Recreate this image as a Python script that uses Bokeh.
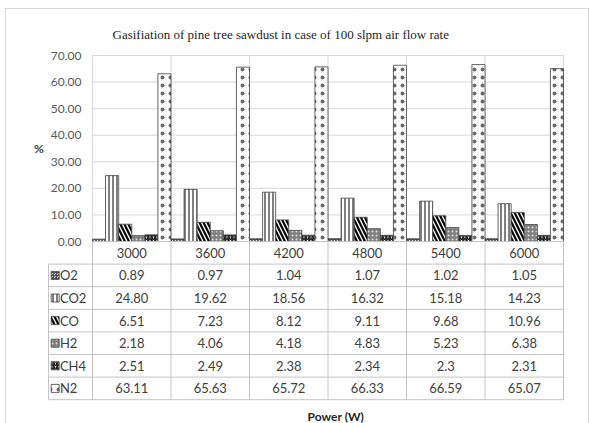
from bokeh.plotting import figure
from bokeh.layouts import column
from bokeh.models import Range1d, FixedTicker, NumeralTickFormatter
from bokeh.embed import file_html
from bokeh.resources import INLINE
from bokeh.core.properties import value

# ---------------- data ----------------
categories = ["3000", "3600", "4200", "4800", "5400", "6000"]
series_names = ["O2", "CO2", "CO", "H2", "CH4", "N2"]
O2 = ["0.89", "0.97", "1.04", "1.07", "1.02", "1.05"]
CO2 = ["24.80", "19.62", "18.56", "16.32", "15.18", "14.23"]
CO = ["6.51", "7.23", "8.12", "9.11", "9.68", "10.96"]
H2 = ["2.18", "4.06", "4.18", "4.83", "5.23", "6.38"]
CH4 = ["2.51", "2.49", "2.38", "2.34", "2.3", "2.31"]
N2 = ["63.11", "65.63", "65.72", "66.33", "66.59", "65.07"]
series_values = [O2, CO2, CO, H2, CH4, N2]
y_ticks = [0, 10, 20, 30, 40, 50, 60, 70]
title_text = "Gasifiation of pine tree sawdust in case of 100 slpm air flow rate"
y_label = "%"
x_label = "Power (W)"

# ---------------- styles ----------------
styles = [
    dict(fill_color="#d9d9d9", hatch_pattern="criss_cross", hatch_color="#404040", hatch_scale=3, hatch_weight=0.8),
    dict(fill_color="white", hatch_pattern="vertical_line", hatch_color="#000000", hatch_scale=4, hatch_weight=1),
    dict(fill_color="white", hatch_pattern="left_diagonal_line", hatch_color="#000000", hatch_scale=8, hatch_weight=2.2),
    dict(fill_color="#7f7f7f", hatch_pattern="dot", hatch_color="#e0e0e0", hatch_scale=4, hatch_weight=1.2),
    dict(fill_color="white", hatch_pattern="right_diagonal_line", hatch_color="#000000", hatch_scale=3.5, hatch_weight=1.3),
    dict(fill_color="white", hatch_pattern="dot", hatch_color="#6a6a6a", hatch_scale=8, hatch_weight=1.6),
]
GRID = "#d9d9d9"
TABLE_LINE = "#c4c4c4"
TXT = "#404040"
FONT = "Lato"

n = len(categories)
k = len(series_names)

# geometry (pixel scale of one category / one % unit)
unit_px = 78.5
pct_px = 186 / 70.0
legend_left = -44 / unit_px          # legend column of the table, left of category 0
pad_l = 18 / unit_px
pad_r = 2 / unit_px
ROW = 22.6 / pct_px                   # table row height in % units
W, H = 582, 414
top_b, left_b, right_b = 44, 24, 23
frame_h = H - top_b
y_top = 70 + 2 / pct_px
y_bot = y_top - frame_h / pct_px

p = figure(width=W, height=H,
           x_range=Range1d(legend_left - pad_l, n + pad_r), y_range=Range1d(y_bot, y_top),
           output_backend="svg", toolbar_location=None, x_axis_location=None,
           min_border_left=left_b, min_border_right=right_b, min_border_top=top_b, min_border_bottom=0)
p.outline_line_color = None
p.grid.visible = False

p.title.text = title_text
p.title.align = "left"
p.title.offset = 82
p.title.standoff = 24
p.title.text_font = "Liberation Serif"
p.title.text_font_size = "13px"
p.title.text_font_style = "normal"
p.title.text_color = "#262626"

ya = p.yaxis[0]
ya.ticker = FixedTicker(ticks=y_ticks)
ya.formatter = NumeralTickFormatter(format="0.00")
ya.major_label_text_font = FONT
ya.major_label_text_font_size = "12px"
ya.major_label_text_color = "#595959"
ya.axis_line_color = None
ya.major_tick_line_color = None
ya.minor_tick_line_color = None
ya.major_tick_out = 0
ya.major_tick_in = 0
ya.major_label_standoff = -51

# y title, centred on the 0-70 span, left of the tick labels
p.text(x=[legend_left - 0.121], y=[(y_ticks[0] + y_ticks[-1]) / 2], text=[y_label],
       text_align="center", text_baseline="middle",
       text_font=value(FONT), text_font_size="12px", text_font_style="bold", text_color=TXT)

# chart gridlines (from the tick values / category boundaries)
p.segment(x0=[0] * len(y_ticks), x1=[n] * len(y_ticks), y0=y_ticks, y1=y_ticks,
          line_color=GRID, line_width=1)
bx = list(range(n + 1))
p.segment(x0=bx, x1=bx, y0=[0] * len(bx), y1=[70] * len(bx), line_color=GRID, line_width=1)

# bars
centers = [i + 0.5 for i in range(n)]
for j, (vals, st) in enumerate(zip(series_values, styles)):
    xs = [i + (j + 0.5) / k for i in range(n)]
    tops = [float(v) for v in vals]
    p.vbar(x=xs, width=1.0 / k, top=tops, bottom=0,
           line_color="#404040", line_width=0.8, **st)

# ---------------- data table ----------------
hx0 = [0] + [legend_left] * (k + 1)
hx1 = [n] * (k + 2)
hy = [0] + [-(r + 1) * ROW for r in range(k + 1)]
p.segment(x0=hx0, x1=hx1, y0=hy, y1=hy, line_color=TABLE_LINE, line_width=1)
p.segment(x0=bx, x1=bx, y0=[0] * len(bx), y1=[-(k + 1) * ROW] * len(bx), line_color=TABLE_LINE, line_width=1)
p.segment(x0=[legend_left], x1=[legend_left], y0=[-ROW], y1=[-(k + 1) * ROW], line_color=TABLE_LINE, line_width=1)

# header row (categories)
p.text(x=centers, y=[-0.5 * ROW] * n, text=categories,
       text_align="center", text_baseline="middle",
       text_font=value(FONT), text_font_size="13px", text_color=TXT)

# value cells
for j, vals in enumerate(series_values):
    p.text(x=centers, y=[-(j + 1.5) * ROW] * n, text=vals,
           text_align="center", text_baseline="middle",
           text_font=value(FONT), text_font_size="13px", text_color=TXT)

# legend keys + names
for j, (name, st) in enumerate(zip(series_names, styles)):
    p.scatter(x=[legend_left + 0.085], y=[-(j + 1.5) * ROW], marker="square", size=8,
              line_color="#404040", line_width=0.8, **st)
p.text(x=[legend_left + 0.145] * k, y=[-(j + 1.5) * ROW for j in range(k)], text=series_names,
       text_align="left", text_baseline="middle",
       text_font=value(FONT), text_font_size="13px", text_color=TXT)

# x title
p.text(x=[n / 2 + 0.1], y=[-(k + 1.75) * ROW], text=[x_label], text_align="center", text_baseline="middle",
       text_font=value(FONT), text_font_size="12px", text_font_style="bold", text_color="#262626")

layout = column(p, spacing=0,
                styles={"margin-left": "5px", "margin-top": "8px", "border": "1px solid #d9d9d9"})

open("out.html", "w").write(file_html(layout, INLINE))
